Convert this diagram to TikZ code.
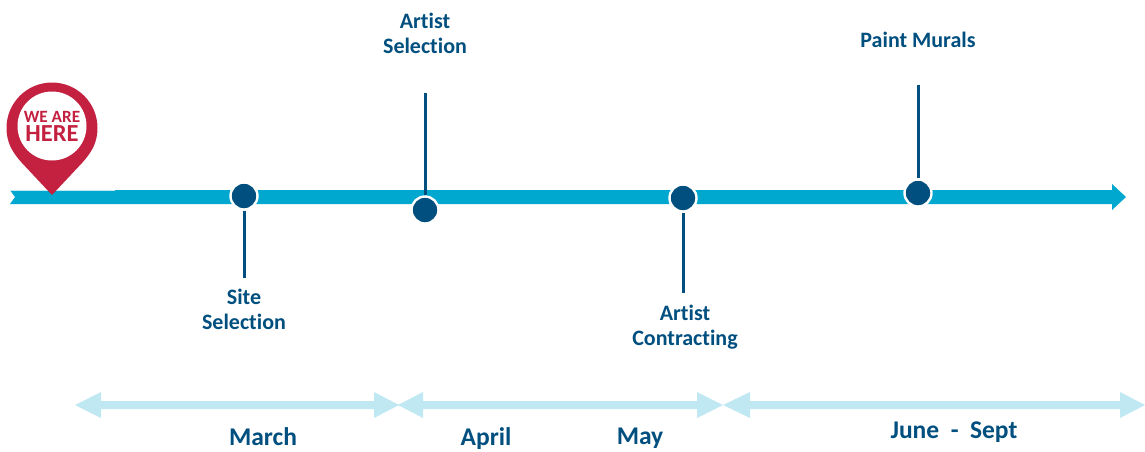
\documentclass[tikz,border=0pt]{standalone}
\usepackage{fontspec}
\setmainfont{Carlito}[Ligatures=NoCommon]
\definecolor{barblue}{HTML}{00A7CF}
\definecolor{lightblue}{HTML}{C0E8F2}
\definecolor{navy}{HTML}{004F7F}
\definecolor{pinred}{HTML}{C4203F}
\tikzset{
  dot/.style={circle,fill=navy,draw=white,line width=2.4pt,minimum size=27pt,inner sep=0pt},
  stem/.style={draw=navy,line width=3pt},
  lab/.style={text=navy,font=\fontsize{22}{25.5}\selectfont\bfseries,align=center,inner sep=0pt},
  mon/.style={text=navy,font=\fontsize{25.5}{28}\selectfont\bfseries,align=center,inner sep=0pt},
  span/.style={fill=lightblue,draw=none},
}
\begin{document}
\begin{tikzpicture}[x=1pt,y=-1pt]
\useasboundingbox (0,0) rectangle (1145,451);
% main bar
\fill[barblue] (10,190) -- (1112,190) -- (1112,184) -- (1126,197) -- (1112,210) -- (1112,204) -- (10,204) -- (15,197) -- cycle;
\fill[lightblue] (10,190) rectangle (115,191);
% pin
\fill[pinred] (52,195) -- (22,163) .. controls (12,152) and (6.5,142) .. (6.5,128) arc[start angle=-180,end angle=0,radius=45.5] .. controls (97.5,142) and (92,152) .. (82,163) -- cycle;
\fill[white] (52,126) circle[radius=34.5];
\node[text=pinred,font=\fontsize{17.2}{19}\selectfont\bfseries,inner sep=0pt] (here1) at (52,117) {WE ARE};
\node[text=pinred,font=\fontsize{24.5}{26}\selectfont\bfseries,inner sep=0pt] (here2) at (52,134) {HERE};
% light span arrows
\fill[span] (75,405) -- (101,392) -- (101,401) -- (374,401) -- (374,392) -- (399,405) -- (374,418) -- (374,409) -- (101,409) -- (101,418) -- cycle;
\fill[span] (398,405) -- (423,392) -- (423,401) -- (697,401) -- (697,392) -- (723,405) -- (697,418) -- (697,409) -- (423,409) -- (423,418) -- cycle;
\fill[span] (723,405) -- (750,392) -- (750,401) -- (1120,401) -- (1120,392) -- (1145,405) -- (1120,418) -- (1120,409) -- (750,409) -- (750,418) -- cycle;
% dots
\node[dot] (d1) at (244,196) {};
\node[dot] (d2) at (425,210) {};
\node[dot] (d3) at (683,198) {};
\node[dot] (d4) at (918,193) {};
% stems
\coordinate (e1) at (244,278);
\coordinate (e2) at (425,93);
\coordinate (e3) at (683,293);
\coordinate (e4) at (918,85);
\draw[stem] (d1) -- (e1);
\draw[stem] (d2) -- (e2);
\draw[stem] (d3) -- (e3);
\draw[stem] (d4) -- (e4);
% labels
\node[lab] (l1) at (244,309.5) {Site\\Selection};
\node[lab] (l2) at (425,33.5) {Artist\\Selection};
\node[lab] (l3) at (685,327) {Artist\\Contracting};
\node[lab] (l4) at (918,40) {Paint Murals};
\node[mon] (m1) at (263,437) {March};
\node[mon] (m2) at (486,438.5) {April};
\node[mon] (m3) at (640,438.5) {May};
\node[mon] (m4) at (954,432) {June\ \ -\ \ Sept};
\end{tikzpicture}
\end{document}
